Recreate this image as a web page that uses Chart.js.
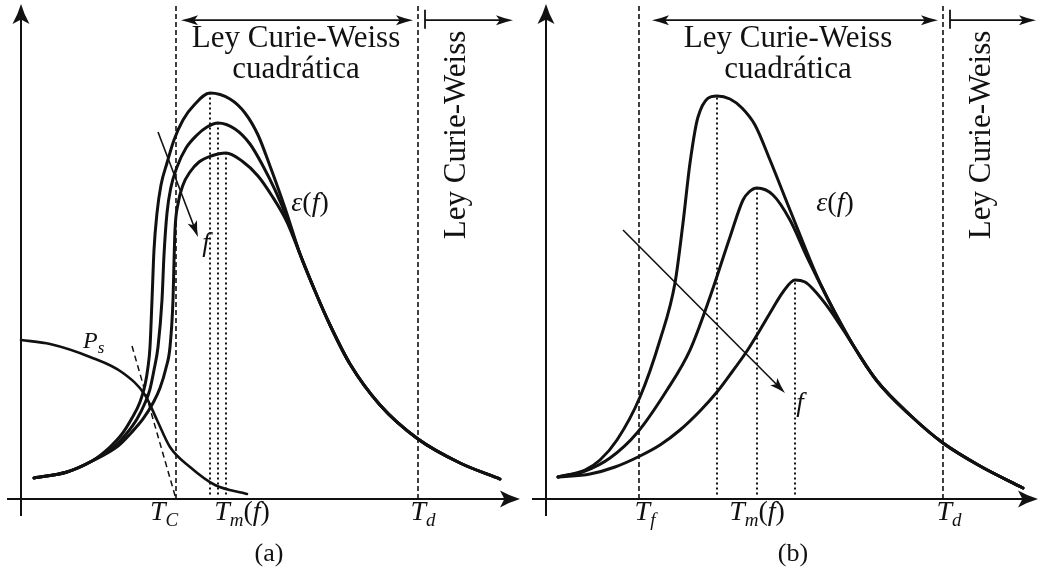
<!DOCTYPE html>
<html>
<head>
<meta charset="utf-8">
<script src="https://cdn.jsdelivr.net/npm/chart.js@4.4.1/dist/chart.umd.min.js"></script>
<style>
  html, body { margin: 0; padding: 0; background: #fff; }
  #wrap { position: relative; width: 1040px; height: 572px; overflow: hidden; }
  .panel { position: absolute; top: 0; width: 520px; height: 572px; }
</style>
</head>
<body>
<div id="wrap">
  <div class="panel" style="left:0"><canvas id="ca" width="520" height="572"></canvas></div>
  <div class="panel" style="left:520px"><canvas id="cb" width="520" height="572"></canvas></div>
</div>
<script>
// ---------- Panel (a): ferroelectric with dispersion ----------
// shared low-temperature start of the three permittivity curves
const aStartT   = [2.6, 9.2, 14.2];
const aStartEps = [4.67, 6.0, 8.44];
// shared Curie-Weiss tail above the maxima
const aTailT   = [55.8, 58.8, 61.8, 65.8, 71.8, 79.4, 87.8, 95.8];
const aTailEps = [54.44, 46.22, 38.67, 30.0, 20.89, 13.33, 8.0, 4.44];
// low, middle and high frequency branches
const aLowT   = [17.8, 20.2, 22.2, 23.8, 24.8, 25.4, 25.8, 26.2, 26.6, 27.2, 28.0, 29.2, 30.6, 32.4, 34.8, 37.8, 41.8, 44.8, 47.4, 49.8, 52.8];
const aLowEps = [11.56, 14.44, 18.0, 21.56, 25.33, 29.33, 33.78, 44.22, 55.33, 63.56, 69.78, 74.67, 79.78, 84.22, 87.78, 90.22, 88.89, 85.78, 80.89, 74.0, 64.67];
const aMidT   = [18.8, 21.2, 23.2, 24.8, 25.8, 26.6, 27.4, 28.2, 28.6, 29.2, 30.0, 31.2, 33.0, 35.2, 37.2, 39.4, 42.8, 45.8, 48.4, 50.8, 53.2];
const aMidEps = [11.78, 14.67, 17.78, 21.33, 24.44, 28.67, 33.78, 44.22, 54.22, 63.56, 69.33, 73.78, 78.0, 80.89, 82.67, 83.56, 82.22, 78.89, 74.0, 68.67, 62.44];
const aHighT   = [19.4, 22.0, 24.4, 26.4, 27.8, 29.0, 29.8, 30.4, 30.6, 30.8, 31.4, 32.4, 33.8, 35.6, 38.0, 41.0, 44.2, 47.4, 50.2, 53.2];
const aHighEps = [11.78, 14.67, 17.78, 21.33, 24.67, 29.11, 33.78, 44.22, 52.67, 59.78, 65.56, 69.78, 72.67, 74.89, 76.22, 76.89, 75.11, 71.78, 67.33, 61.56];
// spontaneous polarization and its tangent
const aPsT   = [0, 5.8, 13.8, 20.4, 24.8, 27.2, 29.8, 33.8, 38.8, 45.2];
const aPsVal = [35.33, 34.44, 31.56, 28.0, 23.11, 17.56, 11.56, 7.11, 3.11, 1.11];
const aTanT   = [22.2, 31.0];
const aTanVal = [34.0, 0];
// characteristic temperatures
const aTC = 31.0;
const aTd = 79.4;

// ---------- Panel (b): relaxor ----------
const bStartT   = [2.4];
const bStartEps = [4.89];
const bTailT   = [61.4, 66.2, 72.8, 79.4, 86.8, 95.4];
const bTailEps = [34.22, 26.22, 18.67, 12.44, 7.33, 2.44];
const bLowT   = [7.8, 10.8, 14.2, 18.8, 22.8, 25.8, 27.4, 28.8, 30.4, 34.2, 36.8, 39.2, 41.8, 44.8, 48.8, 54.8];
const bLowEps = [6.44, 8.67, 13.11, 22.67, 35.33, 48.0, 61.33, 74.67, 84.89, 89.56, 88.89, 86.89, 83.11, 75.33, 64.22, 48.0];
const bMidT   = [7.8, 12.8, 18.2, 24.2, 28.8, 32.8, 36.8, 39.4, 40.6, 42.2, 45.4, 48.8, 52.2, 56.8];
const bMidEps = [6.22, 9.11, 14.67, 24.22, 33.11, 44.89, 58.22, 66.44, 68.22, 69.11, 67.56, 62.0, 53.78, 43.56];
const bHighT   = [8.8, 13.8, 18.8, 22.8, 26.8, 30.8, 34.2, 37.2, 40.2, 42.8, 45.4, 47.4, 49.8, 51.8, 53.4, 56.8];
const bHighEps = [5.56, 7.11, 9.56, 12.0, 15.33, 19.56, 23.78, 28.22, 32.89, 37.56, 42.44, 46.0, 48.67, 48.22, 46.67, 42.0];
const bTf = 18.6;
const bTd = 79.4;

// frequency arrows (start, end)
const aFreqArrow = [[27.4, 81.56], [35.4, 58.22]];
const bFreqArrow = [[15.4, 59.78], [47.8, 23.56]];

// ---------- helpers ----------
const INK = '#111';
const SERIF = '"Liberation Serif", "DejaVu Serif", serif';
const EPS_MAX = 110;
const TOP_LINE = 109.8;

const zip = (xs, ys) => xs.map((x, i) => ({ x, y: ys[i] }));
const curve = (t0, e0, t, e, t1, e1) => zip([...t0, ...t, ...t1], [...e0, ...e, ...e1]);
const peakOf = pts => pts.reduce((m, p) => (p.y > m.y ? p : m), pts[0]);

function curveSet(pts, width) {
  return { data: pts, showLine: true, borderColor: INK, borderWidth: width || 3,
           pointRadius: 0, cubicInterpolationMode: 'monotone', fill: false, clip: false,
           borderCapStyle: 'round', borderJoinStyle: 'round' };
}
function vline(x, y0, y1, dash, width) {
  return { data: [{ x, y: y0 }, { x, y: y1 }], showLine: true, borderColor: INK,
           borderWidth: width, borderDash: dash, pointRadius: 0, tension: 0, fill: false, clip: false };
}

function head(ctx, x1, y1, x2, y2, len, half) {
  const a = Math.atan2(y2 - y1, x2 - x1);
  const c = Math.cos(a), s = Math.sin(a);
  const bx = x2 - len * c, by = y2 - len * s;
  const nx = x2 - len * 0.78 * c, ny = y2 - len * 0.78 * s;
  ctx.beginPath();
  ctx.moveTo(x2, y2);
  ctx.quadraticCurveTo(x2 - len * 0.5 * c - half * 0.35 * s, y2 - len * 0.5 * s + half * 0.35 * c,
                       bx - half * s, by + half * c);
  ctx.lineTo(nx, ny);
  ctx.lineTo(bx + half * s, by - half * c);
  ctx.quadraticCurveTo(x2 - len * 0.5 * c + half * 0.35 * s, y2 - len * 0.5 * s - half * 0.35 * c,
                       x2, y2);
  ctx.closePath();
  ctx.fill();
}
function seg(ctx, x1, y1, x2, y2) {
  ctx.beginPath(); ctx.moveTo(x1, y1); ctx.lineTo(x2, y2); ctx.stroke();
}
// parts: [text, size, italic, dy]
function mathText(ctx, parts, x, y, align) {
  let w = 0;
  const ws = parts.map(p => {
    ctx.font = (p[2] ? 'italic ' : '') + p[1] + 'px ' + SERIF;
    const m = ctx.measureText(p[0]).width; w += m; return m;
  });
  let sx = align === 'center' ? x - w / 2 : x;
  ctx.textBaseline = 'alphabetic';
  ctx.textAlign = 'left';
  parts.forEach((p, i) => {
    ctx.font = (p[2] ? 'italic ' : '') + p[1] + 'px ' + SERIF;
    ctx.fillText(p[0], sx, y + (p[3] || 0));
    sx += ws[i];
  });
}
const Tsub = s => [['T', 28, true, 0], [s, 19, true, 6]];
const Tmf = [['T', 28, true, 0], ['m', 19, true, 6], ['(', 28, false, 0], ['f', 28, true, 0], [')', 28, false, 0]];
const epsF = [['\u03B5', 28, true, 0], ['(', 28, false, 0], ['f', 28, true, 0], [')', 28, false, 0]];

function figure(spec) {
  return {
    id: 'figure',
    beforeDatasetsDraw(chart) {
      const ctx = chart.ctx;
      const X = v => chart.scales.x.getPixelForValue(v);
      const Y = v => chart.scales.y.getPixelForValue(v);
      ctx.save();
      ctx.strokeStyle = INK; ctx.fillStyle = INK; ctx.lineWidth = 2;
      // vertical axis
      seg(ctx, X(0), Y(-3.8), X(0), Y(EPS_MAX) + 14);
      head(ctx, X(0), Y(0), X(0), Y(EPS_MAX), 20, 8.5);
      // temperature axis
      seg(ctx, X(spec.xFrom), Y(0), X(spec.xTo) - 14, Y(0));
      head(ctx, X(0), Y(0), X(spec.xTo), Y(0), 20, 8.5);
      ctx.restore();
    },
    afterDatasetsDraw(chart) {
      const ctx = chart.ctx;
      const X = v => chart.scales.x.getPixelForValue(v);
      const Y = v => chart.scales.y.getPixelForValue(v);
      ctx.save();
      ctx.strokeStyle = INK; ctx.fillStyle = INK;
      // region arrows along the top
      const yt = Y(106.4);
      ctx.lineWidth = 1.8;
      seg(ctx, X(spec.quadFrom) + 6, yt, X(spec.quadTo) - 6, yt);
      head(ctx, X(spec.quadTo), yt, X(spec.quadFrom), yt, 17, 5);
      head(ctx, X(spec.quadFrom), yt, X(spec.quadTo), yt, 17, 5);
      seg(ctx, X(80.8), Y(108.7), X(80.8), Y(104.5));
      seg(ctx, X(80.8), yt, X(spec.cwTo) - 6, yt);
      head(ctx, X(80.8), yt, X(spec.cwTo), yt, 17, 5);
      // frequency arrow
      const f = spec.freq;
      ctx.lineWidth = 1.6;
      const fx1 = X(f[0][0]), fy1 = Y(f[0][1]), fx2 = X(f[1][0]), fy2 = Y(f[1][1]);
      const L = Math.hypot(fx2 - fx1, fy2 - fy1);
      seg(ctx, fx1, fy1, fx2 - (fx2 - fx1) / L * 8, fy2 - (fy2 - fy1) / L * 8);
      head(ctx, fx1, fy1, fx2, fy2, 16, 5);
      // texts
      ctx.font = '31px ' + SERIF;
      ctx.textAlign = 'center'; ctx.textBaseline = 'alphabetic';
      ctx.fillText('Ley Curie-Weiss', X(spec.titleX), Y(100.4));
      ctx.fillText('cuadr\u00E1tica', X(spec.titleX), Y(93.6));
      ctx.save();
      ctx.translate(X(88.8), Y(80.9));
      ctx.rotate(-Math.PI / 2);
      ctx.fillText('Ley Curie-Weiss', 0, 0);
      ctx.restore();
      mathText(ctx, epsF, X(57.8), Y(64.0), 'center');
      mathText(ctx, [['f', 27, true, 0]], X(spec.fLabel[0]), Y(spec.fLabel[1]), 'center');
      spec.labels.forEach(l => mathText(ctx, l[0], X(l[1]), Y(-4.67), 'center'));
      mathText(ctx, [[spec.panel, 26, false, 0]], X(spec.panelX), Y(-13.8), 'center');
      if (spec.extra) spec.extra(ctx, X, Y);
      ctx.restore();
    }
  };
}

function build(id, datasets, xMax, padLeft, spec) {
  return new Chart(document.getElementById(id), {
    type: 'scatter',
    data: { datasets },
    options: {
      responsive: false, animation: false, events: [],
      layout: { padding: { left: padLeft, right: 0, top: 4, bottom: 73 } },
      plugins: { legend: { display: false }, tooltip: { enabled: false } },
      scales: {
        x: { type: 'linear', display: false, min: 0, max: xMax },
        y: { type: 'linear', display: false, min: 0, max: EPS_MAX }
      }
    },
    plugins: [figure(spec)]
  });
}

// ---------- panel (a) ----------
const aLow  = curve(aStartT, aStartEps, aLowT,  aLowEps,  aTailT, aTailEps);
const aMid  = curve(aStartT, aStartEps, aMidT,  aMidEps,  aTailT, aTailEps);
const aHigh = curve(aStartT, aStartEps, aHighT, aHighEps, aTailT, aTailEps);
const aPeaks = [peakOf(aLow), peakOf(aMid), peakOf(aHigh)];
build('ca', [
  curveSet(aLow), curveSet(aMid), curveSet(aHigh),
  curveSet(zip(aPsT, aPsVal), 2.6),
  { ...vline(0, 0, 0, [6, 4], 1.5), data: zip(aTanT, aTanVal) },
  vline(aTC, 0, TOP_LINE, [5, 3], 1.6),
  vline(aTd, 0, TOP_LINE, [5, 3], 1.6),
  ...aPeaks.map(p => vline(p.x, 1.0, p.y, [2, 3], 2))
], 99.8, 21, {
  xFrom: -2.8, xTo: 99.8, quadFrom: 32.0, quadTo: 78.4, cwTo: 98.4,
  freq: aFreqArrow, titleX: 55.0, fLabel: [37.0, 55.1],
  labels: [[Tsub('C'), 28.6], [Tmf, 44.2], [Tsub('d'), 80.4]],
  panel: '(a)', panelX: 49.6,
  extra: (ctx, X, Y) => mathText(ctx, [['P', 24, true, 0], ['s', 17, true, 5]], X(12.4), Y(33.6), 'left')
});

// ---------- panel (b) ----------
const bLow  = curve(bStartT, bStartEps, bLowT,  bLowEps,  bTailT, bTailEps);
const bMid  = curve(bStartT, bStartEps, bMidT,  bMidEps,  bTailT, bTailEps);
const bHigh = curve(bStartT, bStartEps, bHighT, bHighEps, bTailT, bTailEps);
const bPeaks = [peakOf(bLow), peakOf(bMid), peakOf(bHigh)];
build('cb', [
  curveSet(bLow), curveSet(bMid), curveSet(bHigh),
  vline(bTf, 0, TOP_LINE, [5, 3], 1.6),
  vline(bTd, 0, TOP_LINE, [5, 3], 1.6),
  ...bPeaks.map(p => vline(p.x, 1.0, p.y, [2, 3], 2))
], 98.8, 26, {
  xFrom: -2.8, xTo: 98.4, quadFrom: 21.2, quadTo: 78.4, cwTo: 98.0,
  freq: bFreqArrow, titleX: 48.4, fLabel: [50.8, 19.6],
  labels: [[Tsub('f'), 19.8], [Tmf, 42.2], [Tsub('d'), 80.6]],
  panel: '(b)', panelX: 49.4
});
</script>
</body>
</html>
